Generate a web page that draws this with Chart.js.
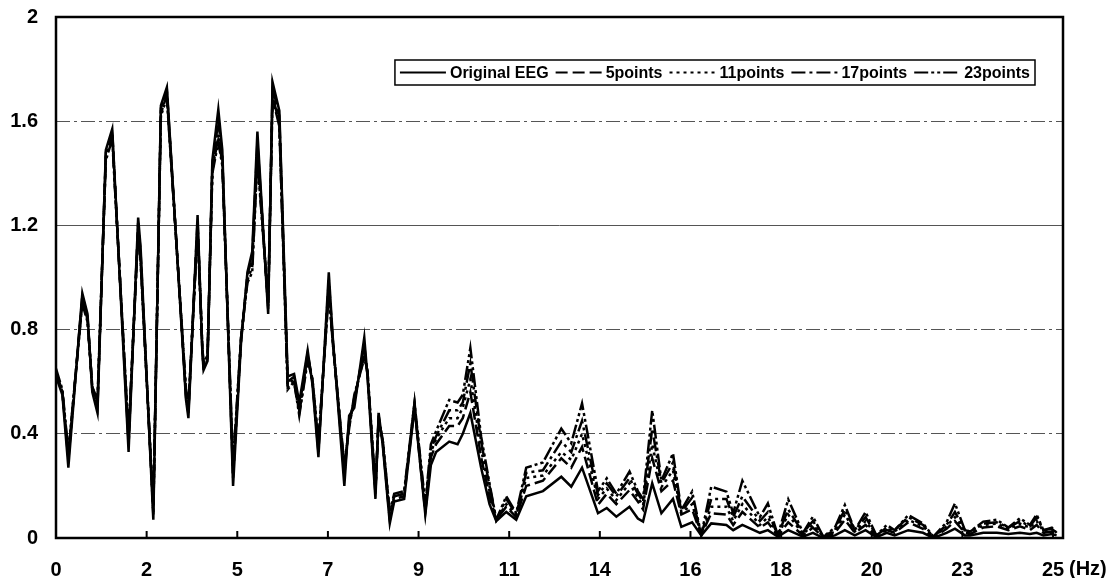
<!DOCTYPE html>
<html>
<head>
<meta charset="utf-8">
<script src="https://cdn.jsdelivr.net/npm/chart.js@4.4.1/dist/chart.umd.min.js"></script>
<style>
  html, body { margin: 0; padding: 0; background: #fff; }
</style>
</head>
<body>
<canvas id="eegChart" width="1110" height="578"></canvas>
<script>
// frequency (Hz) of each plotted point
const freqs = [
  0.00, 0.16, 0.31, 0.66, 0.79, 0.91, 1.04, 1.25, 1.41, 1.82,
  2.06, 2.12, 2.44, 2.63, 2.78, 3.26, 3.32, 3.55, 3.67, 3.70,
  3.80, 3.92, 4.07, 4.17, 4.44, 4.64, 4.80, 4.92, 5.05, 5.32,
  5.43, 5.60, 5.81, 5.97, 6.10, 6.31, 6.43, 6.58, 6.84, 6.94,
  7.23, 7.35, 7.48, 7.73, 7.81, 8.01, 8.09, 8.19, 8.37, 8.48,
  8.73, 8.99, 9.07, 9.26, 9.40, 9.53, 9.86, 10.07, 10.20, 10.39,
  10.66, 10.87, 11.04, 11.29, 11.54, 11.79, 12.21, 12.67, 12.92, 13.19,
  13.59, 13.81, 14.05, 14.38, 14.59, 14.72, 14.95, 15.18, 15.47, 15.68,
  15.95, 16.18, 16.43, 16.81, 16.98, 17.21, 17.65, 17.85, 18.10, 18.36,
  18.73, 18.98, 19.24, 19.53, 19.78, 20.03, 20.30, 20.57, 20.83, 21.03,
  21.37, 21.74, 22.00, 22.33, 22.54, 22.79, 22.92, 23.25, 23.59, 23.88,
  24.17, 24.42, 24.59, 24.76, 24.97, 25.09
];

const originalEEG = [
  0.62, 0.55, 0.27, 0.94, 0.86, 0.56, 0.48, 1.49, 1.57, 0.33,
  1.23, 1.12, 0.07, 1.66, 1.73, 0.53, 0.46, 1.24, 0.71, 0.645,
  0.68, 1.45, 1.645, 1.49, 0.20, 0.75, 1.02, 1.10, 1.56, 0.86,
  1.75, 1.64, 0.62, 0.63, 0.52, 0.72, 0.59, 0.31, 1.02, 0.77,
  0.20, 0.47, 0.50, 0.77, 0.62, 0.15, 0.48, 0.36, 0.056, 0.14,
  0.15, 0.50, 0.38, 0.09, 0.28, 0.33, 0.37, 0.36, 0.40, 0.48,
  0.27, 0.13, 0.065, 0.10, 0.07, 0.16, 0.18, 0.235, 0.197, 0.27,
  0.095, 0.115, 0.082, 0.12, 0.075, 0.063, 0.21, 0.095, 0.15, 0.043,
  0.06, 0.01, 0.056, 0.05, 0.03, 0.05, 0.02, 0.03, 0.005, 0.03,
  0.005, 0.02, 0.0, 0.01, 0.03, 0.01, 0.03, 0.003, 0.02, 0.01,
  0.03, 0.02, 0.0, 0.02, 0.036, 0.01, 0.01, 0.02, 0.02, 0.015,
  0.02, 0.015, 0.02, 0.01, 0.015, 0.01
];

const points5 = [
  0.63, 0.56, 0.30, 0.93, 0.85, 0.57, 0.50, 1.48, 1.56, 0.36,
  1.21, 1.10, 0.09, 1.65, 1.72, 0.54, 0.48, 1.22, 0.72, 0.66,
  0.69, 1.43, 1.60, 1.47, 0.23, 0.76, 1.01, 1.08, 1.52, 0.88,
  1.73, 1.62, 0.60, 0.62, 0.50, 0.71, 0.60, 0.33, 0.99, 0.76,
  0.24, 0.45, 0.52, 0.74, 0.63, 0.17, 0.47, 0.37, 0.07, 0.15,
  0.16, 0.51, 0.38, 0.10, 0.31, 0.36, 0.43, 0.43, 0.46, 0.56,
  0.31, 0.16, 0.07, 0.12, 0.08, 0.20, 0.22, 0.306, 0.27, 0.35,
  0.127, 0.17, 0.13, 0.184, 0.14, 0.11, 0.306, 0.18, 0.22, 0.09,
  0.11, 0.012, 0.095, 0.09, 0.05, 0.10, 0.04, 0.06, 0.008, 0.06,
  0.01, 0.04, 0.002, 0.02, 0.07, 0.02, 0.05, 0.005, 0.03, 0.02,
  0.06, 0.035, 0.002, 0.035, 0.065, 0.02, 0.015, 0.04, 0.045, 0.03,
  0.045, 0.03, 0.05, 0.02, 0.025, 0.015
];

const points11 = [
  0.64, 0.56, 0.31, 0.92, 0.84, 0.57, 0.51, 1.47, 1.55, 0.38,
  1.19, 1.08, 0.10, 1.64, 1.71, 0.55, 0.49, 1.20, 0.72, 0.66,
  0.69, 1.42, 1.57, 1.45, 0.25, 0.76, 1.00, 1.06, 1.49, 0.89,
  1.71, 1.60, 0.59, 0.61, 0.49, 0.70, 0.60, 0.35, 0.97, 0.76,
  0.26, 0.44, 0.53, 0.72, 0.63, 0.18, 0.46, 0.37, 0.08, 0.16,
  0.17, 0.51, 0.39, 0.11, 0.33, 0.38, 0.46, 0.46, 0.50, 0.61,
  0.34, 0.18, 0.07, 0.13, 0.085, 0.23, 0.24, 0.33, 0.30, 0.40,
  0.15, 0.19, 0.145, 0.21, 0.155, 0.125, 0.36, 0.195, 0.26, 0.095,
  0.13, 0.012, 0.12, 0.12, 0.065, 0.13, 0.05, 0.08, 0.01, 0.09,
  0.015, 0.05, 0.004, 0.025, 0.09, 0.025, 0.065, 0.008, 0.035, 0.025,
  0.07, 0.045, 0.003, 0.045, 0.08, 0.025, 0.02, 0.05, 0.055, 0.035,
  0.055, 0.04, 0.065, 0.025, 0.03, 0.015
];

const points17 = [
  0.64, 0.56, 0.32, 0.91, 0.84, 0.58, 0.52, 1.46, 1.54, 0.39,
  1.18, 1.07, 0.11, 1.63, 1.70, 0.56, 0.50, 1.19, 0.73, 0.67,
  0.70, 1.41, 1.54, 1.44, 0.27, 0.77, 0.99, 1.04, 1.47, 0.90,
  1.70, 1.59, 0.58, 0.60, 0.48, 0.69, 0.61, 0.36, 0.95, 0.75,
  0.27, 0.43, 0.54, 0.70, 0.64, 0.19, 0.45, 0.38, 0.09, 0.16,
  0.17, 0.52, 0.39, 0.12, 0.34, 0.39, 0.49, 0.49, 0.52, 0.67,
  0.37, 0.20, 0.07, 0.15, 0.09, 0.25, 0.26, 0.37, 0.33, 0.45,
  0.165, 0.21, 0.16, 0.23, 0.17, 0.14, 0.42, 0.21, 0.29, 0.10,
  0.155, 0.012, 0.15, 0.15, 0.08, 0.16, 0.065, 0.10, 0.01, 0.11,
  0.02, 0.065, 0.005, 0.03, 0.11, 0.03, 0.08, 0.01, 0.04, 0.03,
  0.08, 0.05, 0.004, 0.05, 0.10, 0.03, 0.025, 0.055, 0.06, 0.04,
  0.065, 0.045, 0.08, 0.03, 0.035, 0.02
];

const points23 = [
  0.65, 0.57, 0.33, 0.90, 0.83, 0.58, 0.53, 1.45, 1.53, 0.40,
  1.17, 1.06, 0.12, 1.62, 1.69, 0.57, 0.51, 1.18, 0.73, 0.67,
  0.70, 1.40, 1.52, 1.43, 0.29, 0.77, 0.98, 1.02, 1.45, 0.91,
  1.69, 1.58, 0.57, 0.60, 0.47, 0.68, 0.61, 0.37, 0.94, 0.75,
  0.28, 0.42, 0.55, 0.69, 0.64, 0.20, 0.45, 0.38, 0.10, 0.17,
  0.18, 0.52, 0.40, 0.13, 0.36, 0.41, 0.53, 0.52, 0.55, 0.73,
  0.39, 0.21, 0.07, 0.16, 0.095, 0.27, 0.29, 0.42, 0.364, 0.517,
  0.18, 0.229, 0.17, 0.255, 0.18, 0.15, 0.49, 0.22, 0.325, 0.107,
  0.178, 0.012, 0.197, 0.178, 0.095, 0.22, 0.08, 0.133, 0.01, 0.148,
  0.02, 0.082, 0.005, 0.04, 0.127, 0.03, 0.10, 0.01, 0.05, 0.03,
  0.088, 0.056, 0.005, 0.06, 0.133, 0.03, 0.025, 0.063, 0.07, 0.04,
  0.076, 0.05, 0.09, 0.03, 0.04, 0.02
];

const seriesNames = ['Original EEG', '5points', '11points', '17points', '23points'];
const xTickLabels = ['0', '2', '5', '7', '9', '11', '14', '16', '18', '20', '23', '25'];
const xTickStep = 25 / 11;
const yTickLabels = ['0', '0.4', '0.8', '1.2', '1.6', '2'];

// line styles: solid, dashed, dotted, dash-dot, dash-dot-dot
const dashes = [[], [12, 5], [3, 4], [14, 4, 3, 4], [14, 3, 3, 3, 3, 3]];
const seriesValues = [originalEEG, points5, points11, points17, points23];

const FONT = '"Liberation Sans", Arial, sans-serif';

const datasets = seriesValues.map((vals, k) => ({
  label: seriesNames[k],
  data: freqs.map((f, i) => ({ x: f, y: vals[i] })),
  borderColor: '#000',
  borderWidth: 2.5,
  borderDash: dashes[k],
  pointRadius: 0,
  tension: 0,
  fill: false
}));

// frame, inward x ticks, (Hz) and the boxed legend
const framePlugin = {
  id: 'frame',
  afterDraw(chart) {
    const { ctx, chartArea: a, scales } = chart;
    ctx.save();
    ctx.strokeStyle = '#000';
    ctx.lineWidth = 2;
    scales.x.ticks.forEach(t => {
      const px = scales.x.getPixelForValue(t.value);
      ctx.beginPath();
      ctx.moveTo(px, a.bottom);
      ctx.lineTo(px, a.bottom - 7);
      ctx.stroke();
    });
    ctx.lineWidth = 2.5;
    ctx.strokeRect(a.left, a.top, a.right - a.left, a.bottom - a.top);

    ctx.fillStyle = '#000';
    ctx.font = 'bold 20px ' + FONT;
    ctx.textBaseline = 'middle';
    ctx.textAlign = 'left';
    ctx.fillText('(Hz)', a.right + 6, 569);

    // legend
    ctx.font = 'bold 16px ' + FONT;
    const lineLen = 46;
    const widths = seriesNames.map(n => ctx.measureText(n).width);
    let total = 10;
    widths.forEach(w => { total += lineLen + 4 + w; });
    total += 7 * (seriesNames.length - 1);
    const h = 25;
    const right = a.right - 28;
    const top = a.top + 43;
    const left = right - total;
    ctx.fillStyle = '#fff';
    ctx.fillRect(left, top, total, h);
    ctx.lineWidth = 1.5;
    ctx.strokeRect(left, top, total, h);
    let x = left + 5;
    const cy = top + h / 2;
    seriesNames.forEach((n, k) => {
      ctx.setLineDash(dashes[k]);
      ctx.lineWidth = 2;
      ctx.beginPath();
      ctx.moveTo(x, cy);
      ctx.lineTo(x + lineLen, cy);
      ctx.stroke();
      ctx.setLineDash([]);
      ctx.fillStyle = '#000';
      ctx.fillText(n, x + lineLen + 4, cy + 1);
      x += lineLen + 4 + widths[k] + 7;
    });
    ctx.restore();
  }
};

const chart = new Chart(document.getElementById('eegChart'), {
  type: 'line',
  data: { datasets: datasets },
  options: {
    responsive: false,
    animation: false,
    layout: { autoPadding: false, padding: { top: 17, right: 47, left: 0, bottom: 0 } },
    plugins: {
      legend: { display: false },
      tooltip: { enabled: false }
    },
    scales: {
      x: {
        type: 'linear',
        min: 0,
        max: 25.25,
        afterBuildTicks: axis => {
          axis.ticks = xTickLabels.map((l, i) => ({ value: i * xTickStep }));
        },
        afterFit: axis => {
          axis.height = 40;
          axis.paddingLeft = 0;
          axis.paddingRight = 0;
        },
        grid: { display: false, drawTicks: false },
        border: { display: false },
        ticks: {
          autoSkip: false,
          maxRotation: 0,
          padding: 20,
          color: '#000',
          font: { family: FONT, size: 20, weight: 'bold' },
          callback: (v, i) => xTickLabels[i]
        }
      },
      y: {
        min: 0,
        max: 2,
        afterBuildTicks: axis => {
          axis.ticks = yTickLabels.map(l => ({ value: parseFloat(l) }));
        },
        afterFit: axis => {
          axis.width = 56;
          // the top label may overhang the frame, as in the original
          axis.paddingTop = 0;
          axis.paddingBottom = 0;
        },
        grid: { color: '#555', lineWidth: 1, drawTicks: false },
        border: {
          display: false,
          dash: c => (c.tick && Math.abs(c.tick.value - 1.2) < 1e-6) ? [] : [14, 4, 3, 4]
        },
        ticks: {
          padding: 18,
          color: '#000',
          font: { family: FONT, size: 20, weight: 'bold' },
          callback: (v, i) => yTickLabels[i]
        }
      }
    }
  },
  plugins: [framePlugin]
});
</script>
</body>
</html>
